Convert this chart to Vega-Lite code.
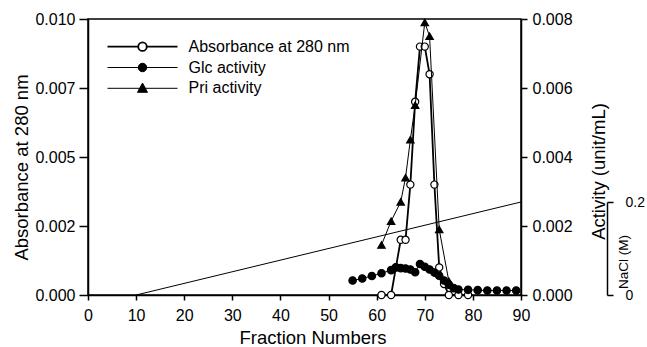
{
  "$schema": "https://vega.github.io/schema/vega-lite/v6.json",
  "width": 433,
  "height": 276,
  "autosize": {"type": "none"},
  "padding": {"left": 88, "top": 19, "right": 126, "bottom": 52},
  "background": "white",
  "config": {
    "font": "Liberation Sans",
    "view": {"stroke": "black", "strokeWidth": 1.5},
    "axis": {
      "grid": false,
      "domainColor": "black",
      "domainWidth": 1.5,
      "tickColor": "black",
      "tickWidth": 1.5,
      "labelColor": "black",
      "titleColor": "black",
      "labelFont": "Liberation Sans",
      "titleFont": "Liberation Sans",
      "labelFontSize": 16,
      "titleFontSize": 18.5,
      "titleFontWeight": "normal",
      "labelOverlap": false,
      "labelFlush": false
    },
    "legend": {
      "orient": "none",
      "legendX": 46.5,
      "legendY": 19.7,
      "symbolOpacity": 1,
      "labelFontSize": 16,
      "labelFont": "Liberation Sans",
      "labelColor": "black",
      "labelLimit": 0,
      "labelOffset": 38,
      "rowPadding": 4.8,
      "padding": 0
    }
  },
  "datasets": {
    "main": [
      {"f": 61, "v": 0.0, "s": "Absorbance at 280 nm"},
      {"f": 63, "v": 0.0, "s": "Absorbance at 280 nm"},
      {"f": 64, "v": 0.0010, "s": "Absorbance at 280 nm"},
      {"f": 65, "v": 0.0020, "s": "Absorbance at 280 nm"},
      {"f": 66, "v": 0.0020, "s": "Absorbance at 280 nm"},
      {"f": 67, "v": 0.0040, "s": "Absorbance at 280 nm"},
      {"f": 68, "v": 0.0070, "s": "Absorbance at 280 nm"},
      {"f": 69, "v": 0.0090, "s": "Absorbance at 280 nm"},
      {"f": 70, "v": 0.0090, "s": "Absorbance at 280 nm"},
      {"f": 71, "v": 0.0080, "s": "Absorbance at 280 nm"},
      {"f": 72, "v": 0.0040, "s": "Absorbance at 280 nm"},
      {"f": 73, "v": 0.0010, "s": "Absorbance at 280 nm"},
      {"f": 74, "v": 0.0004, "s": "Absorbance at 280 nm"},
      {"f": 75, "v": 0.0, "s": "Absorbance at 280 nm"},
      {"f": 77, "v": 0.0, "s": "Absorbance at 280 nm"},
      {"f": 79, "v": 0.0, "s": "Absorbance at 280 nm"},
      {"f": 55, "v": 0.00042, "s": "Glc activity"},
      {"f": 57, "v": 0.00048, "s": "Glc activity"},
      {"f": 59, "v": 0.00055, "s": "Glc activity"},
      {"f": 61, "v": 0.00063, "s": "Glc activity"},
      {"f": 63, "v": 0.00072, "s": "Glc activity"},
      {"f": 64, "v": 0.00080, "s": "Glc activity"},
      {"f": 65, "v": 0.00078, "s": "Glc activity"},
      {"f": 66, "v": 0.00077, "s": "Glc activity"},
      {"f": 67, "v": 0.00074, "s": "Glc activity"},
      {"f": 68, "v": 0.00066, "s": "Glc activity"},
      {"f": 69, "v": 0.00090, "s": "Glc activity"},
      {"f": 70, "v": 0.00082, "s": "Glc activity"},
      {"f": 71, "v": 0.00074, "s": "Glc activity"},
      {"f": 72, "v": 0.00065, "s": "Glc activity"},
      {"f": 73, "v": 0.00056, "s": "Glc activity"},
      {"f": 74, "v": 0.00042, "s": "Glc activity"},
      {"f": 75, "v": 0.00030, "s": "Glc activity"},
      {"f": 76, "v": 0.00020, "s": "Glc activity"},
      {"f": 77, "v": 0.00016, "s": "Glc activity"},
      {"f": 79, "v": 0.00015, "s": "Glc activity"},
      {"f": 81, "v": 0.00014, "s": "Glc activity"},
      {"f": 83, "v": 0.00013, "s": "Glc activity"},
      {"f": 85, "v": 0.00013, "s": "Glc activity"},
      {"f": 87, "v": 0.00013, "s": "Glc activity"},
      {"f": 89, "v": 0.00013, "s": "Glc activity"},
      {"f": 61, "v": 0.00145, "s": "Pri activity"},
      {"f": 63, "v": 0.00214, "s": "Pri activity"},
      {"f": 65, "v": 0.0027, "s": "Pri activity"},
      {"f": 66, "v": 0.0034, "s": "Pri activity"},
      {"f": 67, "v": 0.0045, "s": "Pri activity"},
      {"f": 68, "v": 0.0055, "s": "Pri activity"},
      {"f": 70, "v": 0.0079, "s": "Pri activity"},
      {"f": 71, "v": 0.0075, "s": "Pri activity"},
      {"f": 73, "v": 0.0019, "s": "Pri activity"},
      {"f": 75, "v": 0.0004, "s": "Pri activity"}
    ],
    "nacl": [
      {"f": 10, "m": 0.0},
      {"f": 90, "m": 0.2}
    ]
  },
  "layer": [
    {
      "data": {"name": "main"},
      "transform": [{"filter": "datum.s === 'Absorbance at 280 nm'"}],
      "encoding": {
        "x": {
          "field": "f", "type": "quantitative",
          "scale": {"domain": [0, 90], "nice": false},
          "axis": {
            "values": [0, 10, 20, 30, 40, 50, 60, 70, 80, 90],
            "title": "Fraction Numbers",
            "tickSize": 5, "labelPadding": 7,
            "titleX": 224.5, "titleY": 42, "titleBaseline": "middle", "titleAlign": "center"
          }
        },
        "y": {
          "field": "v", "type": "quantitative",
          "scale": {"domain": [0, 0.01], "nice": false},
          "axis": {
            "orient": "left",
            "values": [0, 0.0025, 0.005, 0.0075, 0.01],
            "labelExpr": "format(floor(datum.value*1000+1e-9)/1000, '.3f')",
            "title": "Absorbance at 280 nm",
            "tickSize": 9, "labelPadding": 4,
            "titleAngle": 270, "titleX": -66.5, "titleY": 148, "titleBaseline": "middle", "titleAlign": "center"
          }
        }
      },
      "layer": [
        {"mark": {"type": "line", "color": "black", "strokeWidth": 1.8}},
        {
          "mark": {"type": "point", "filled": true, "stroke": "black", "strokeWidth": 1.2, "size": 52, "opacity": 1},
          "encoding": {
            "shape": {
              "field": "s", "type": "nominal",
              "scale": {"domain": ["Absorbance at 280 nm", "Glc activity", "Pri activity"], "range": ["circle", "circle", "triangle-up"]},
              "legend": null
            },
            "fill": {
              "field": "s", "type": "nominal",
              "scale": {"domain": ["Absorbance at 280 nm", "Glc activity", "Pri activity"], "range": ["white", "black", "black"]},
              "legend": null
            }
          }
        }
      ]
    },
    {
      "data": {"name": "main"},
      "transform": [{"filter": "datum.s !== 'Absorbance at 280 nm'"}],
      "encoding": {
        "x": {"field": "f", "type": "quantitative", "scale": {"domain": [0, 90], "nice": false}},
        "y": {
          "field": "v", "type": "quantitative",
          "scale": {"domain": [0, 0.008], "nice": false},
          "axis": {
            "orient": "right",
            "values": [0, 0.002, 0.004, 0.006, 0.008],
            "format": ".3f",
            "title": "Activity (unit/mL)",
            "tickSize": 6, "labelPadding": 5,
            "titleAngle": 270, "titleX": 77.5, "titleY": 152, "titleBaseline": "middle", "titleAlign": "center"
          }
        }
      },
      "layer": [
        {"mark": {"type": "line", "color": "black", "strokeWidth": 1}, "encoding": {"detail": {"field": "s", "type": "nominal"}}},
        {
          "mark": {"type": "point", "filled": true, "stroke": "black", "strokeWidth": 1.2, "size": 55, "opacity": 1},
          "encoding": {
            "shape": {
              "field": "s", "type": "nominal",
              "scale": {"domain": ["Absorbance at 280 nm", "Glc activity", "Pri activity"], "range": ["circle", "circle", "triangle-up"]},
              "legend": null
            },
            "fill": {
              "field": "s", "type": "nominal",
              "scale": {"domain": ["Absorbance at 280 nm", "Glc activity", "Pri activity"], "range": ["white", "black", "black"]},
              "legend": null
            }
          }
        }
      ]
    },
    {
      "data": {"name": "nacl"},
      "mark": {"type": "line", "color": "black", "strokeWidth": 1},
      "encoding": {
        "x": {"field": "f", "type": "quantitative", "scale": {"domain": [0, 90], "nice": false}},
        "y": {
          "field": "m", "type": "quantitative",
          "scale": {"domain": [0, 0.2], "range": [276, 183], "nice": false},
          "axis": {
            "orient": "right",
            "offset": 86,
            "values": [0, 0.2],
            "labelExpr": "datum.value == 0 ? '0' : '0.2'",
            "labelFontSize": 14,
            "title": "NaCl (M)",
            "titleFontSize": 13.5,
            "tickSize": 6, "labelPadding": 12,
            "titleAngle": 270, "titleX": 16, "titleY": 242.5, "titleBaseline": "middle", "titleAlign": "center"
          }
        }
      }
    },
    {
      "data": {"name": "main"},
      "mark": {"type": "point", "filled": false, "color": "black", "opacity": 0, "size": 64},
      "encoding": {
        "shape": {
          "field": "s", "type": "nominal",
          "scale": {
            "domain": ["Absorbance at 280 nm", "Glc activity", "Pri activity"],
            "range": [
              "M-7,0H-0.85M0.85,0H7M-0.85,0A0.85,0.85,0,1,0,0.85,0A0.85,0.85,0,1,0,-0.85,0Z",
              "M-7,0H7M-0.85,0A0.85,0.85,0,1,0,0.85,0A0.85,0.85,0,1,0,-0.85,0Z",
              "M-7,0H7M0,-1.05L1.0,0.8L-1.0,0.8Z"
            ]
          },
          "legend": {"title": null, "symbolOpacity": 1}
        },
        "fill": {
          "field": "s", "type": "nominal",
          "scale": {"domain": ["Absorbance at 280 nm", "Glc activity", "Pri activity"], "range": ["white", "black", "black"]},
          "legend": {"title": null, "symbolOpacity": 1}
        },
        "strokeWidth": {
          "field": "s", "type": "nominal",
          "scale": {"type": "ordinal", "domain": ["Absorbance at 280 nm", "Glc activity", "Pri activity"], "range": [1.8, 1, 1]},
          "legend": {"title": null, "symbolOpacity": 1}
        }
      }
    }
  ],
  "resolve": {"scale": {"y": "independent", "shape": "independent", "fill": "independent", "strokeWidth": "independent"}}
}
